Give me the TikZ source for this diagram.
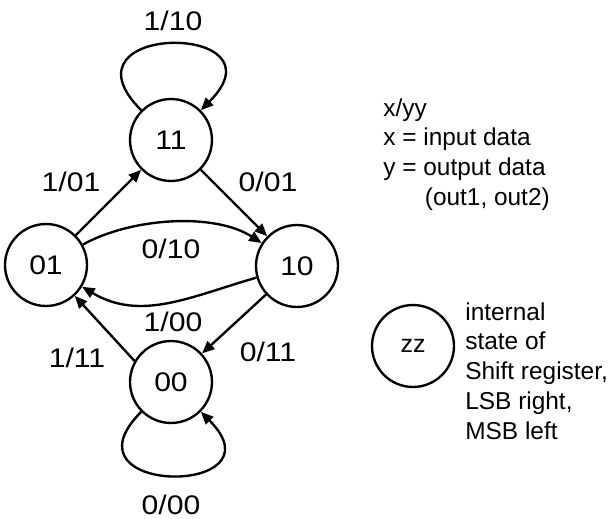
\documentclass[tikz,border=0pt]{standalone}
\usepackage{fontspec}
\setmainfont{Liberation Sans}
\newfontfamily\digitfont[FakeStretch=1.12]{Liberation Sans}
\usetikzlibrary{arrows.meta}

\begin{document}
\begin{tikzpicture}[x=0.02cm, y=0.02cm,
    every node/.style={font=\fontsize{13.9}{17}\selectfont},
    regstate/.style={draw, circle, line width=1.35pt, minimum size=1.64cm, inner sep=0pt,
                     font=\fontsize{15.3}{18}\digitfont},
    arr/.style={-{Triangle[length=2.5mm, width=2.1mm]}, line width=1.35pt},
    lbl/.style={inner sep=0pt, font=\fontsize{15.3}{18}\digitfont},
    note/.style={align=left, inner sep=0pt, anchor=north west}
  ]
  \useasboundingbox (0,0) rectangle (609,-518);
  % states of the shift register
  \node[regstate] (s11) at (171,-140) {11};
  \node[regstate] (s01) at (46,-265)  {01};
  \node[regstate] (s10) at (297,-266) {10};
  \node[regstate] (s00) at (171,-382) {00};
  % transitions
  \draw[arr] (s01) -- (s11);
  \draw[arr] (s11) -- (s10);
  \draw[arr] (s10) -- (s00);
  \draw[arr] (s00.150) -- (s01.-47);
  \draw[arr] (s01) to[out=29, in=147, looseness=0.8] (s10);
  \draw[arr] (s10) to[out=196, in=-31] (s01);
  \draw[arr] (s11.135) .. controls +(135:125) and +(45:125) .. (s11.45);
  \draw[arr] (s00.-135) .. controls +(-135:120) and +(-45:120) .. (s00.-45);
  % input/output labels
  \node[lbl] (l1110) at (173,-21)  {1/10};
  \node[lbl] (l0101) at (71,-182)  {1/01};
  \node[lbl] (l1001) at (268,-182) {0/01};
  \node[lbl] (l0110) at (171,-249) {0/10};
  \node[lbl] (l1000) at (173,-322) {1/00};
  \node[lbl] (l0011) at (77,-358)  {1/11};
  \node[lbl] (l1011) at (268,-352) {0/11};
  \node[lbl] (l0000) at (171,-505) {0/00};
  % legend
  \node[note] (io) at (383,-98) {x/yy\\x = input data\\y = output data\\\hspace*{1.7em}(out1, out2)};
  \node[regstate, font=\fontsize{14.2}{17}\selectfont] (key) at (413,-346) {zz};
  \node[note] (keytext) at (465,-302) {internal\\state of\\Shift register,\\LSB right,\\MSB left};
\end{tikzpicture}
\end{document}
